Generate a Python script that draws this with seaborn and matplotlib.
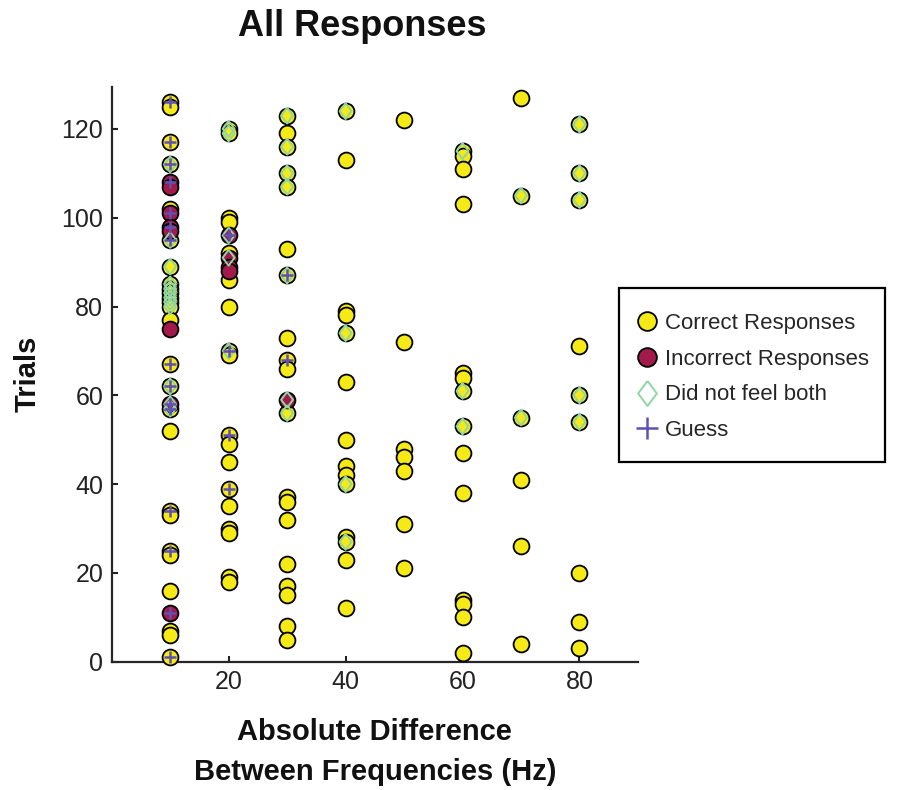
import numpy as np
import pandas as pd
import matplotlib
matplotlib.use('Agg')
import matplotlib.pyplot as plt
from matplotlib.lines import Line2D
from matplotlib.patches import Rectangle
import seaborn as sns

# Environment settings
sns.set_style('ticks')
plt.rcParams['font.family'] = ['Liberation Sans', 'DejaVu Sans']

# Data: trial numbers for each absolute frequency difference (Hz)
correct_trials = {
    10: [126, 125, 117, 112, 102, 95, 89, 85, 84, 83, 82, 81, 80, 77, 67, 62, 57,
         52, 34, 33, 25, 24, 16, 7, 6, 1],
    20: [120, 119, 100, 99, 92, 86, 80, 70, 69, 51, 49, 45, 39, 35, 30, 29, 19, 18],
    30: [123, 119, 116, 110, 107, 93, 87, 73, 68, 66, 56, 37, 36, 32, 22, 17, 15, 8, 5],
    40: [124, 113, 79, 78, 74, 63, 50, 44, 42, 40, 28, 27, 23, 12],
    50: [122, 72, 48, 46, 43, 31, 21],
    60: [115, 114, 111, 103, 65, 64, 61, 53, 47, 38, 14, 13, 10, 2],
    70: [127, 105, 55, 41, 26, 4],
    80: [121, 110, 104, 71, 60, 54, 20, 9, 3],
}
incorrect_trials = {
    10: [108, 107, 101, 98, 97, 75, 58, 11],
    20: [96, 91, 89, 88],
    30: [59],
}
nofeel_trials = {
    10: [112, 95, 89, 85, 84, 83, 82, 81, 80, 62, 58, 57],
    20: [120, 119, 96, 91, 70],
    30: [123, 116, 110, 107, 87, 59, 56],
    40: [124, 74, 40, 27],
    60: [115, 61, 53],
    70: [105, 55],
    80: [121, 110, 104, 60, 54],
}
guess_trials = {
    10: [126, 117, 112, 108, 101, 98, 95, 67, 62, 58, 57, 34, 25, 11, 1],
    20: [96, 70, 51, 39],
    30: [87, 68],
}

x_ticks = [20, 40, 60, 80]
y_ticks = [0, 20, 40, 60, 80, 100, 120]

yellow = '#F6EA16'
crimson = '#A21A4B'
green = '#8FD6A2'
purple = '#5E50B5'
diamond = [(0, 1), (0.75, 0), (0, -1), (-0.75, 0), (0, 1)]


def to_frame(trials):
    rows = [(hz, t) for hz, ts in trials.items() for t in ts]
    return pd.DataFrame(rows, columns=['hz', 'trial'])


# Create figure
fig = plt.figure(figsize=(8.97, 7.90), dpi=100)
ax = fig.add_axes([0.1245, 0.1624, 0.5867, 0.7278])

# Circles for responses, then overlays
sns.scatterplot(data=to_frame(correct_trials), x='hz', y='trial', color=yellow,
                edgecolor='black', linewidth=1.3, s=130, ax=ax, clip_on=False, zorder=3)
sns.scatterplot(data=to_frame(incorrect_trials), x='hz', y='trial', color=crimson,
                edgecolor='black', linewidth=1.3, s=130, ax=ax, clip_on=False, zorder=4)
sns.scatterplot(data=to_frame(nofeel_trials), x='hz', y='trial', marker=diamond,
                facecolor='none', edgecolor=green, linewidth=1.4, s=130, ax=ax,
                clip_on=False, zorder=5)
sns.scatterplot(data=to_frame(guess_trials), x='hz', y='trial', marker='+',
                color=purple, linewidth=1.8, s=85, ax=ax, clip_on=False, zorder=6)

# Axes styling
ax.set_xlim(0, 90)
ax.set_ylim(0, 129.5)
ax.set_xticks(x_ticks)
ax.set_yticks(y_ticks)
sns.despine(ax=ax)
for side in ['left', 'bottom']:
    ax.spines[side].set_linewidth(1.6)
ax.tick_params(direction='in', length=4, width=1.5, labelsize=18, colors='#222222',
               pad=6)

# Labels
ax.set_xlabel('Absolute Difference\nBetween Frequencies (Hz)', fontsize=21,
              fontweight='bold', labelpad=17, linespacing=1.55, color='#111111')
ax.set_ylabel('Trials', fontsize=21, fontweight='bold', labelpad=14, color='#111111')
fig.text(0.404, 0.966, 'All Responses', fontsize=26, fontweight='bold',
         ha='center', va='center', color='#111111')

# Legend
handles = [
    Line2D([], [], ls='none', marker='o', markerfacecolor=yellow,
           markeredgecolor='black', markeredgewidth=1.3, markersize=13.5),
    Line2D([], [], ls='none', marker='o', markerfacecolor=crimson,
           markeredgecolor='black', markeredgewidth=1.3, markersize=13.5),
    Line2D([], [], ls='none', marker=diamond, markerfacecolor='none',
           markeredgecolor=green, markeredgewidth=1.4, markersize=18),
    Line2D([], [], ls='none', marker='+', color=purple, markeredgewidth=1.8,
           markersize=16),
]
labels = ['Correct Responses', 'Incorrect Responses', 'Did not feel both', 'Guess']
leg = fig.legend(handles, labels, loc='upper left', bbox_to_anchor=(636 / 897, 1 - 313 / 790),
                 borderaxespad=0, borderpad=0, fontsize=16, frameon=False,
                 handlelength=1.0, handletextpad=0.3, labelspacing=0.66)
fig.add_artist(Rectangle((619 / 897, 1 - 462 / 790), 266 / 897, 174 / 790,
                         transform=fig.transFigure, fill=False, edgecolor='black',
                         linewidth=1.6))

plt.savefig('out.png', dpi=100)
